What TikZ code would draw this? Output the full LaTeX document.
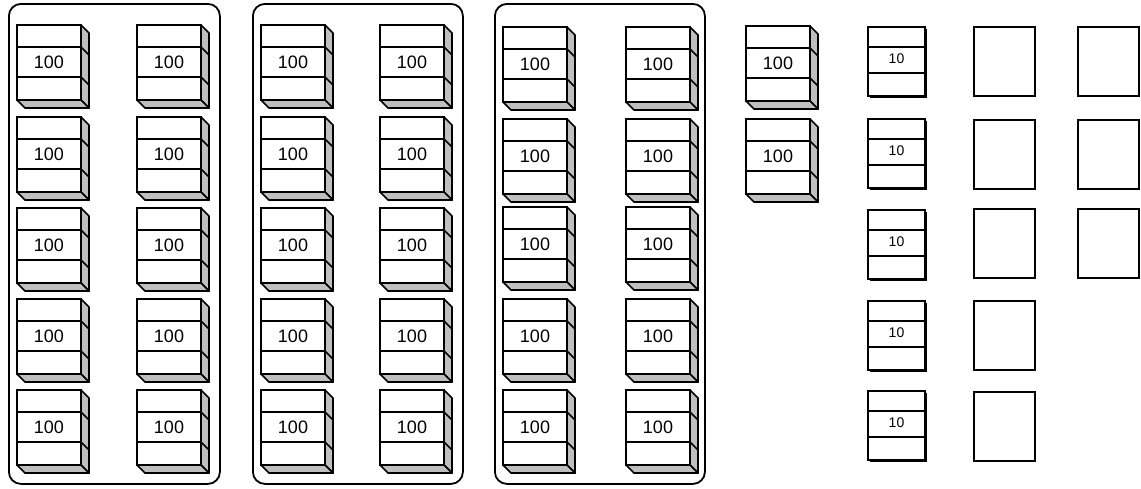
\documentclass[tikz,border=0pt]{standalone}
\usepackage{fontspec}
\setmainfont{Liberation Sans}
\usepackage{tikz}

\tikzset{
	tray/.style={draw, line width=1.8pt, rounded corners=12pt},
	face/.style={draw, line width=1.9pt, fill=white},
	shade/.style={draw, line width=1.7pt, line join=round, fill=black!25},
	hundred/.pic={
		\draw[shade] (64,0) -- (72,8) -- (72,83) -- (64,75) -- cycle;
		\draw[shade] (0,75) -- (8,83) -- (72,83) -- (64,75) -- cycle;
		\draw[line width=1.6pt] (64,22) -- (72,30) (64,52) -- (72,60);
		\draw[face] (0,0) rectangle (64,75);
		\draw[line width=1.8pt] (0,22) -- (64,22) (0,52) -- (64,52);
		\node[font=\fontsize{18}{18}\selectfont] (-label) at (32,37) {100};
	},
	ten/.pic={
		\fill (2,2) rectangle (59,71);
		\draw[face] (0,0) rectangle (57,69);
		\draw[line width=1.4pt] (0,20) -- (57,20) (0,46) -- (57,46);
		\node[font=\fontsize{14}{14}\selectfont] (-label) at (28.5,32) {10};
	},
	unit/.style={draw, line width=2pt, minimum width=61pt, minimum height=69pt, inner sep=0, anchor=north west}
}

\begin{document}
\begin{tikzpicture}[x=1pt, y=-1pt]
	\useasboundingbox (0,0) rectangle (1141,488);
	% Trays:
	\node[tray, inner sep=0, minimum width=211pt, minimum height=480pt, anchor=north west] (T1) at (8,3) {};
	\node[tray, inner sep=0, minimum width=210pt, minimum height=480pt, anchor=north west] (T2) at (252,3) {};
	\node[tray, inner sep=0, minimum width=210pt, minimum height=480pt, anchor=north west] (T3) at (494,3) {};
	% Hundreds, first tray:
	\draw pic (H1) at (17,25) {hundred};
	\draw pic (H2) at (137,25) {hundred};
	\draw pic (H3) at (17,117) {hundred};
	\draw pic (H4) at (137,117) {hundred};
	\draw pic (H5) at (17,208) {hundred};
	\draw pic (H6) at (137,208) {hundred};
	\draw pic (H7) at (17,299) {hundred};
	\draw pic (H8) at (137,299) {hundred};
	\draw pic (H9) at (17,390) {hundred};
	\draw pic (H10) at (137,390) {hundred};
	% Hundreds, second tray:
	\draw pic (H11) at (261,25) {hundred};
	\draw pic (H12) at (380,25) {hundred};
	\draw pic (H13) at (261,117) {hundred};
	\draw pic (H14) at (380,117) {hundred};
	\draw pic (H15) at (261,208) {hundred};
	\draw pic (H16) at (380,208) {hundred};
	\draw pic (H17) at (261,299) {hundred};
	\draw pic (H18) at (380,299) {hundred};
	\draw pic (H19) at (261,390) {hundred};
	\draw pic (H20) at (380,390) {hundred};
	% Hundreds, third tray:
	\draw pic (H21) at (503,27) {hundred};
	\draw pic (H22) at (626,27) {hundred};
	\draw pic (H23) at (503,119) {hundred};
	\draw pic (H24) at (626,119) {hundred};
	\draw pic (H25) at (503,207) {hundred};
	\draw pic (H26) at (626,207) {hundred};
	\draw pic (H27) at (503,299) {hundred};
	\draw pic (H28) at (626,299) {hundred};
	\draw pic (H29) at (503,390) {hundred};
	\draw pic (H30) at (626,390) {hundred};
	% Loose hundreds:
	\draw pic (H31) at (746,26) {hundred};
	\draw pic (H32) at (746,119) {hundred};
	% Tens:
	\draw pic (D1) at (868,27) {ten};
	\draw pic (D2) at (868,119) {ten};
	\draw pic (D3) at (868,210) {ten};
	\draw pic (D4) at (868,301) {ten};
	\draw pic (D5) at (868,391) {ten};
	% Units:
	\node[unit] (U1) at (973,26) {};
	\node[unit] (U2) at (973,119) {};
	\node[unit] (U3) at (973,208) {};
	\node[unit] (U4) at (973,300) {};
	\node[unit] (U5) at (973,391) {};
	\node[unit] (U6) at (1077,26) {};
	\node[unit] (U7) at (1077,119) {};
	\node[unit] (U8) at (1077,208) {};
\end{tikzpicture}
\end{document}
